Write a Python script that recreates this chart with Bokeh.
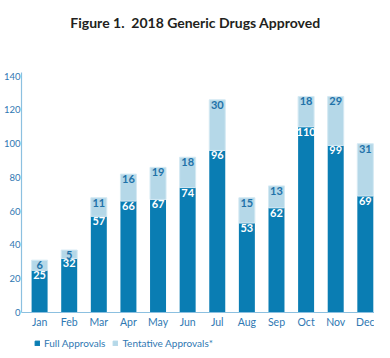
from bokeh.plotting import figure
from bokeh.models import (ColumnDataSource, Range1d, FixedTicker, Legend, LegendItem, Label)
from bokeh.layouts import column
from bokeh.embed import file_html
from bokeh.resources import INLINE
from bokeh.core.properties import value

title_text = "Figure 1.\u00a0 2018 Generic Drugs Approved"
months = ["Jan", "Feb", "Mar", "Apr", "May", "Jun", "Jul", "Aug", "Sep", "Oct", "Nov", "Dec"]
full = [25, 32, 57, 66, 67, 74, 96, 53, 62, 110, 99, 69]
tentative = [6, 5, 11, 16, 19, 18, 30, 15, 13, 18, 29, 31]
y_ticks = [0, 20, 40, 60, 80, 100, 120, 140]
series_names = ["Full Approvals", "Tentative Approvals*"]

DARK = "#0a7db3"
LIGHT = "#b5d8e8"
AXIS = "#8cc0e0"
TXT = "#2f78b2"

xs = list(range(len(months)))
src = ColumnDataSource(dict(
    x=xs, full=full, tentative=tentative,
    full_lbl=[str(v) for v in full],
    tent_lbl=[str(v) for v in tentative],
    top=[f + t for f, t in zip(full, tentative)],
))

# ---- title strip
p0 = figure(width=374, height=40, output_backend="svg", toolbar_location=None,
            x_range=Range1d(0, 1), y_range=Range1d(0, 1),
            x_axis_location=None, y_axis_location=None,
            min_border_left=0, min_border_right=0, min_border_top=0, min_border_bottom=0)
p0.xgrid.visible = False
p0.ygrid.visible = False
p0.outline_line_color = None
p0.add_layout(Label(x=174, y=18, x_units="screen", y_units="screen", text=title_text,
                    text_font="Lato", text_font_style="bold", text_font_size="14px",
                    text_color="#231f20", text_align="center", text_baseline="middle"))

# ---- main chart
p = figure(width=374, height=290, output_backend="svg", toolbar_location=None,
           x_range=Range1d(-0.611, 11.31), y_range=Range1d(0, 142.2),
           min_border_left=15, min_border_right=0, min_border_top=32, min_border_bottom=16)

r = p.vbar_stack(["full", "tentative"], x="x", width=0.54, source=src,
                 color=[DARK, LIGHT], line_color=[DARK, "#d4e9f3"], line_width=[0, 1])

p.text(x="x", y="full", text="full_lbl", source=src, text_color="white",
       text_font=value("Lato"), text_font_style="bold", text_font_size="11px",
       text_align="center", text_baseline="top", y_offset=1)
p.text(x="x", y="top", text="tent_lbl", source=src, text_color="#1f72a8",
       text_font=value("Lato"), text_font_style="bold", text_font_size="11px",
       text_align="center", text_baseline="top", y_offset=1)

p.xaxis.ticker = FixedTicker(ticks=xs)
p.xaxis.major_label_overrides = {i: m for i, m in enumerate(months)}
p.yaxis.ticker = FixedTicker(ticks=y_ticks)
for ax in (p.xaxis[0], p.yaxis[0]):
    ax.axis_line_color = AXIS
    ax.axis_line_width = 1.2
    ax.major_tick_line_color = None
    ax.minor_tick_line_color = None
    ax.major_tick_out = 0
    ax.major_tick_in = 0
    ax.minor_tick_out = 0
    ax.minor_tick_in = 0
    ax.major_label_text_font = "Lato"
    ax.major_label_text_color = TXT
p.xaxis.major_label_text_font_size = "10.5px"
p.yaxis.major_label_text_font_size = "9.5px"
p.xaxis.major_label_standoff = 3
p.yaxis.major_label_standoff = 1
p.xgrid.visible = False
p.ygrid.visible = False
p.outline_line_color = None

# ---- legend strip (its bars lie outside this strip's ranges, only the legend shows)
p2 = figure(width=374, height=20, output_backend="svg", toolbar_location=None,
            x_range=Range1d(-100, -99), y_range=Range1d(-100, -99),
            x_axis_location=None, y_axis_location=None,
            min_border_left=0, min_border_right=0, min_border_top=0, min_border_bottom=0)
p2.xgrid.visible = False
p2.ygrid.visible = False
p2.outline_line_color = None
lr1 = p2.vbar(x="x", top="full", width=0.5, source=src, color=DARK)
lr2 = p2.vbar(x="x", top="tentative", width=0.5, source=src, color=LIGHT)
legend = Legend(items=[LegendItem(label=series_names[0], renderers=[lr1]),
                       LegendItem(label=series_names[1], renderers=[lr2])],
                orientation="horizontal", location=(13, 1),
                label_text_font="Lato", label_text_font_size="10px",
                label_text_color=TXT, glyph_width=6, glyph_height=6,
                label_height=12, label_standoff=4, spacing=7, padding=0, margin=0,
                border_line_color=None, background_fill_alpha=0)
p2.add_layout(legend, "center")

layout = column(p0, p, p2, spacing=0)
open("out.html", "w").write(file_html(layout, INLINE))
